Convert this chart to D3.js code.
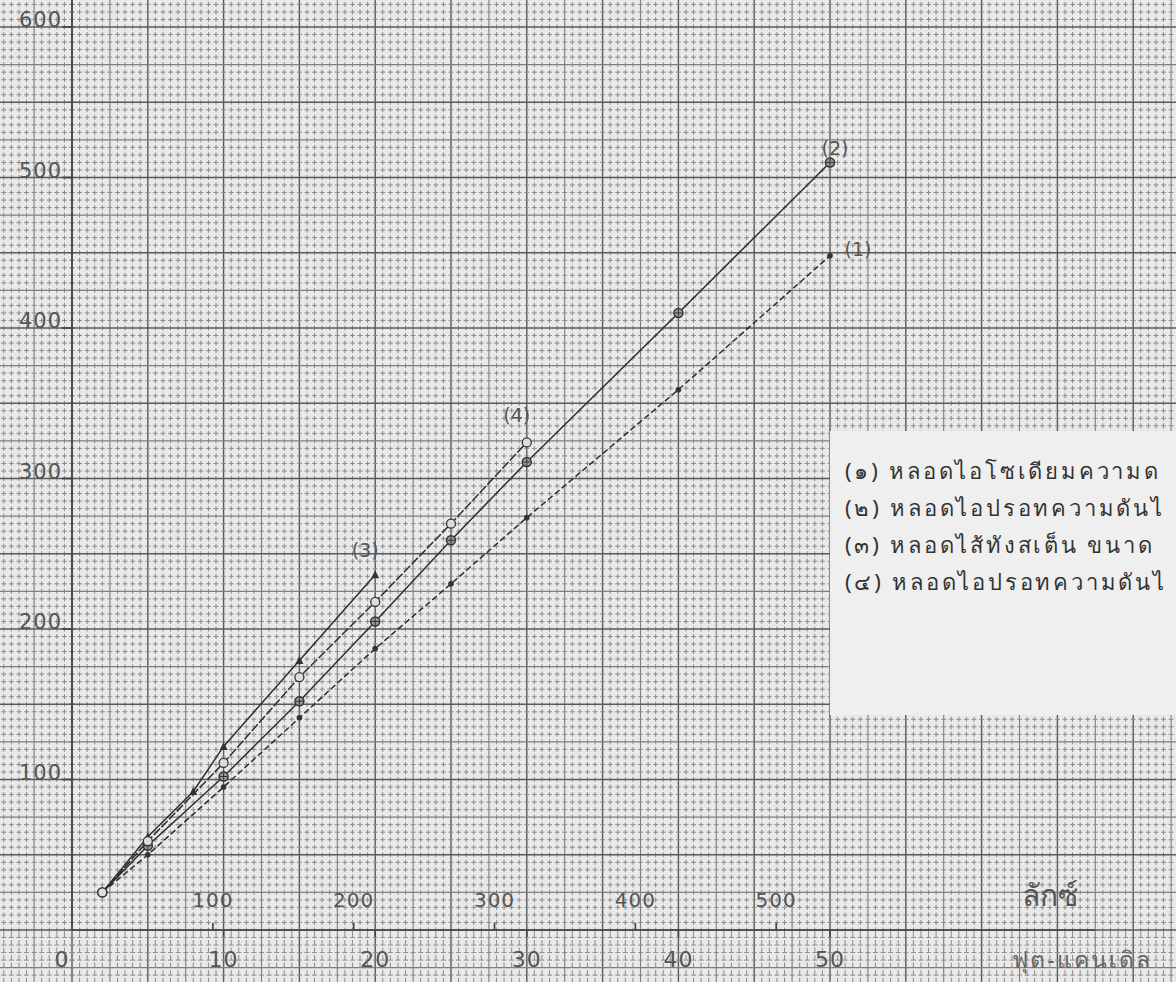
<!DOCTYPE html>
<html lang="th">

<head>
  <meta charset="utf-8">
  <title>กราฟความสว่าง</title>
  <script src="https://d3js.org/d3.v7.min.js"></script>
  <style>
    body { margin: 0; background: #e9e9e9; }
    svg { display: block; }
    .tick-lbl { font: 20px "DejaVu Sans", sans-serif; fill: #555; letter-spacing: 1px; }
    .serie-lbl { font: 19px "DejaVu Sans", sans-serif; fill: #555; }
    .legenda { font: 22px "Noto Sans", "DejaVu Sans", sans-serif; fill: #333; }
  </style>
</head>

<body>
  <svg width="1176" height="982"></svg>

  <script>
    // eixo x de baixo (ฟุต-แคนเดิล) e de cima (ลักซ์)
    var fcTicks = [0, 10, 20, 30, 40, 50];
    var luxTicks = [100, 200, 300, 400, 500];
    var yTicks = [100, 200, 300, 400, 500, 600];

    // séries
    var s1x = [2, 5, 10, 15, 20, 25, 30, 40, 50];
    var s1y = [25, 50, 95, 141, 187, 230, 274, 359, 448];
    var s2x = [2, 5, 10, 15, 20, 25, 30, 40, 50];
    var s2y = [25, 56, 102, 152, 205, 259, 311, 410, 510];
    var s3x = [2, 5, 8, 10, 15, 20];
    var s3y = [25, 62, 92, 122, 179, 236];
    var s4x = [2, 5, 10, 15, 20, 25, 30];
    var s4y = [25, 59, 111, 168, 218, 270, 324];

    var serieLabels = ["(1)", "(2)", "(3)", "(4)"];
    // só o trecho que aparece no papel (o resto foi cortado na foto)
    var legendLines = [
      "(๑) หลอดไอโซเดียมความด",
      "(๒) หลอดไอปรอทความดันไ",
      "(๓) หลอดไส้ทังสเต็น ขนาด",
      "(๔) หลอดไอปรอทความดันไ"
    ];
    var LUX_PER_FC = 10.764;

    var svg = d3.select("svg"),
      width = +svg.attr("width"),
      height = +svg.attr("height");

    var x = d3.scaleLinear().domain([0, 50]).range([72, 830]);
    var y = d3.scaleLinear().domain([0, 600]).range([930, 27]);

    // papel milimetrado: linhas finas a cada 0.5 fc / 5 unidades
    var grade = svg.append("g");
    var xs = d3.range(Math.ceil(x.invert(0) * 2), Math.floor(x.invert(width) * 2) + 1).map(d => d / 2);
    var ys = d3.range(Math.ceil(y.invert(height) / 5), Math.floor(y.invert(0) / 5) + 1).map(d => d * 5);
    var passoX = x(0.5) - x(0), passoY = y(0) - y(5);

    function peso(i, n) {
      if (i % (n * 2) === 0) return "forte";
      if (i % n === 0) return "medio";
      return "fino";
    }
    var estilo = {
      fino: { c: "#8b8b8b", w: 1 },
      medio: { c: "#7e7e7e", w: 1.1 },
      forte: { c: "#5a5a5a", w: 1.4 }
    };

    // traços centrados nos cruzamentos (efeito "+")
    xs.forEach(function (v) {
      var k = peso(Math.round(v * 2), 5), s = estilo[k];
      var dash = k === "fino" ? "5," + (passoY - 5) : null;
      [0, height].forEach(function (fim) {
        grade.append("line")
          .attr("x1", x(v)).attr("x2", x(v))
          .attr("y1", y(0) + 2.5).attr("y2", fim === 0 ? 0 : height)
          .attr("stroke", s.c).attr("stroke-width", s.w)
          .attr("stroke-dasharray", dash);
      });
    });
    ys.forEach(function (v) {
      var k = peso(Math.round(v / 5), 5), s = estilo[k];
      var dash = k === "fino" ? "5," + (passoX - 5) : null;
      [0, width].forEach(function (fim) {
        grade.append("line")
          .attr("x1", x(0) + (fim === 0 ? 2.5 : -2.5)).attr("x2", fim)
          .attr("y1", y(v)).attr("y2", y(v))
          .attr("stroke", s.c).attr("stroke-width", s.w)
          .attr("stroke-dasharray", dash);
      });
    });

    // quadro da legenda colado sobre o papel
    var leg = svg.append("g");
    leg.append("rect").attr("x", 830).attr("y", 431).attr("width", 360).attr("height", 284)
      .attr("fill", "#efefef");

    // eixos
    var eixos = svg.append("g").attr("stroke", "#444").attr("stroke-width", 1.7);
    eixos.append("line").attr("x1", x(0)).attr("x2", x(0)).attr("y1", 0).attr("y2", y(0));
    eixos.append("line").attr("x1", x(0)).attr("x2", 1095).attr("y1", y(0)).attr("y2", y(0));

    // y: rótulo com traço até o eixo
    yTicks.forEach(function (v) {
      eixos.append("line").attr("x1", x(0) - 10).attr("x2", x(0)).attr("y1", y(v)).attr("y2", y(v));
      svg.append("text").attr("class", "tick-lbl")
        .attr("x", x(0) - 10).attr("y", y(v))
        .attr("text-anchor", "end").style("font-size", "21px").text(v);
    });

    // x de baixo: fc
    fcTicks.forEach(function (v) {
      if (v > 0) eixos.append("line").attr("x1", x(v)).attr("x2", x(v)).attr("y1", y(0)).attr("y2", y(0) + 7);
      svg.append("text").attr("class", "tick-lbl")
        .attr("x", v === 0 ? x(0) - 10 : x(v)).attr("y", y(0) + 37)
        .attr("text-anchor", "middle").style("font-size", "22px").text(v);
    });

    // x de cima: lux
    luxTicks.forEach(function (v) {
      var px = x(v / LUX_PER_FC);
      eixos.append("line").attr("x1", px).attr("x2", px).attr("y1", y(0)).attr("y2", y(0) - 7);
      svg.append("text").attr("class", "tick-lbl")
        .attr("x", px).attr("y", y(0) - 23)
        .attr("text-anchor", "middle").text(v);
    });

    svg.append("text").attr("class", "legenda")
      .attr("x", 1050).attr("y", 906).attr("text-anchor", "middle")
      .style("font-size", "30px").style("fill", "#555").text("ลักซ์");
    svg.append("text").attr("class", "legenda")
      .attr("x", 1082).attr("y", 968).attr("text-anchor", "middle")
      .attr("letter-spacing", "2px")
      .style("font-size", "23px").style("fill", "#666").text("ฟุต-แคนเดิล");

    // séries
    var series = [
      { x: s1x, y: s1y, dash: "6,3", m: "ponto" },
      { x: s2x, y: s2y, dash: null, m: "cruz" },
      { x: s3x, y: s3y, dash: null, m: "tri" },
      { x: s4x, y: s4y, dash: "9,2", m: "circ" }
    ];
    var linha = d3.line().x(d => x(d[0])).y(d => y(d[1]));
    var curvas = svg.append("g");

    series.forEach(function (s) {
      var pts = d3.zip(s.x, s.y);
      curvas.append("path").datum(pts)
        .attr("d", linha)
        .attr("fill", "none").attr("stroke", "#2e2e2e").attr("stroke-width", 1.5)
        .attr("stroke-dasharray", s.dash);
      var g = curvas.append("g").selectAll("g").data(pts).enter().append("g")
        .attr("transform", d => "translate(" + x(d[0]) + "," + y(d[1]) + ")");
      if (s.m === "ponto") {
        g.append("circle").attr("r", 2.8).attr("fill", "#333");
      } else if (s.m === "cruz") {
        g.append("circle").attr("r", 4.5).attr("fill", "#999").attr("stroke", "#333").attr("stroke-width", 1.5);
        g.append("path").attr("d", "M-3.5,0H3.5M0,-3.5V3.5").attr("stroke", "#333");
      } else if (s.m === "tri") {
        g.append("path").attr("d", "M0,-4.5L4,3.5H-4Z").attr("fill", "#333");
      } else {
        g.append("circle").attr("r", 4.5).attr("fill", "#ddd").attr("stroke", "#333").attr("stroke-width", 1.3);
      }
    });

    // rótulos das curvas
    var posLbl = [[s1x[s1x.length - 1], s1y[s1y.length - 1], 28, 0],
                  [s2x[s2x.length - 1], s2y[s2y.length - 1], 5, -7],
                  [s3x[s3x.length - 1], s3y[s3y.length - 1], -10, -18],
                  [s4x[s4x.length - 1], s4y[s4y.length - 1], -10, -20]];
    posLbl.forEach(function (p, i) {
      svg.append("text").attr("class", "serie-lbl")
        .attr("x", x(p[0]) + p[2]).attr("y", y(p[1]) + p[3])
        .attr("text-anchor", "middle").text(serieLabels[i]);
    });

    leg.selectAll("text").data(legendLines).enter().append("text")
      .attr("class", "legenda")
      .attr("x", 845).attr("y", (d, i) => 479 + i * 37)
      .attr("letter-spacing", "2.8px")
      .text(d => d);
  </script>

</body>

</html>
